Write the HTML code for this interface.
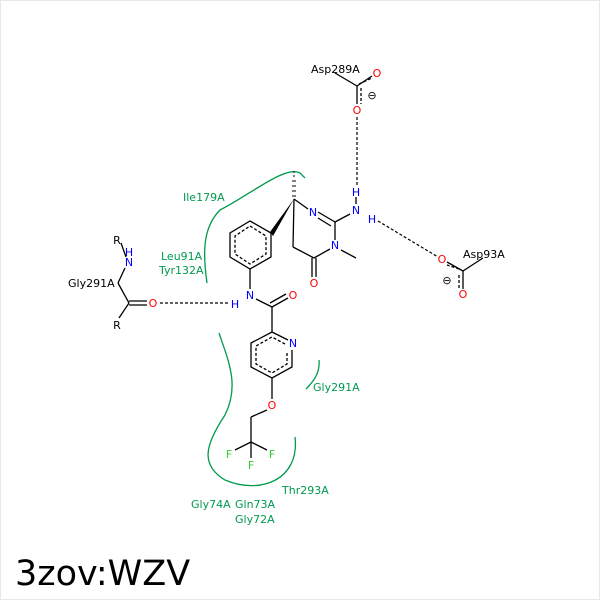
<!DOCTYPE html>
<html><head><style>body{margin:0;background:#fff}svg{display:block}text{font-family:"DejaVu Sans","Liberation Sans",sans-serif}</style></head><body>
<svg width="600" height="600" viewBox="0 0 600 600" xmlns="http://www.w3.org/2000/svg">
<rect x="0.5" y="0.5" width="599" height="599" fill="#fff" stroke="#e8e8e8"/>
<g fill="none" stroke="#009a4e" stroke-width="1.3">
<path d="M207,283 C203,255 202,228 220,210 C250,195 285,165 300,173 L305,178"/>
<path d="M219,333 C228,360 240,385 225,415 C205,445 200,465 225,480 C260,495 300,480 295,437"/>
<path d="M319,360 C320,372 315,380 306,389"/>
</g>
<g stroke="#000" stroke-width="1.3" fill="none">
<polygon points="250,221 271,233 271,257 250,269 230,257 230,233"/>
<polygon points="250,226 266,236 266,254 250,264 235,254 235,236" stroke-dasharray="3,2"/>
<line x1="294" y1="199" x2="308" y2="209"/>
<line x1="318" y1="212" x2="335" y2="222"/><line x1="318" y1="218" x2="331" y2="226"/>
<line x1="335" y1="222" x2="350" y2="214"/>
<line x1="335" y1="222" x2="335" y2="240"/>
<line x1="341" y1="250" x2="356" y2="258"/>
<line x1="330" y1="249" x2="314" y2="258"/>
<line x1="314" y1="258" x2="293" y2="247"/>
<line x1="293" y1="247" x2="294" y2="199"/>
<line x1="312" y1="258" x2="312" y2="277"/><line x1="316" y1="258" x2="316" y2="277"/>
<line x1="356" y1="197" x2="356" y2="204"/>
<line x1="250" y1="269" x2="250" y2="289"/>
<line x1="256" y1="299" x2="272" y2="307"/>
<line x1="272" y1="307" x2="288" y2="298"/><line x1="270" y1="303" x2="286" y2="294"/>
<line x1="272" y1="307" x2="272" y2="332"/>
<polyline points="288,340 272,332 251,343 251,367 272,378 292,367 292,350"/>
<polyline points="285,344 272,337 256,346 256,364 272,373 287,364 287,352" stroke-dasharray="3,2"/>
<line x1="272" y1="378" x2="272" y2="399"/>
<line x1="267" y1="410" x2="251" y2="417"/>
<line x1="251" y1="417" x2="251" y2="442"/>
<line x1="251" y1="442" x2="235" y2="450"/><line x1="251" y1="442" x2="267" y2="450"/><line x1="251" y1="442" x2="251" y2="458"/>
<line x1="121" y1="243" x2="126" y2="257"/>
<line x1="125" y1="268" x2="118" y2="283"/><line x1="118" y1="283" x2="129" y2="303"/>
<line x1="129" y1="301" x2="147" y2="301"/><line x1="129" y1="305" x2="147" y2="305"/>
<line x1="129" y1="303" x2="119" y2="318"/>
<line x1="335" y1="73" x2="357" y2="86"/><line x1="357" y1="86" x2="372" y2="76"/>
<line x1="357" y1="86" x2="357" y2="104"/>
<line x1="361" y1="88" x2="361" y2="104" stroke-dasharray="3,2"/><line x1="359" y1="84" x2="372" y2="78" stroke-dasharray="3,2"/>
<line x1="483" y1="258" x2="463" y2="271"/><line x1="463" y1="271" x2="447" y2="262"/>
<line x1="463" y1="271" x2="463" y2="289"/>
<line x1="459" y1="275" x2="459" y2="289" stroke-dasharray="3,2"/><line x1="459" y1="269" x2="447" y2="265" stroke-dasharray="3,2"/>
</g>
<polygon points="270,232 294,199 273,236" fill="#000"/>
<g stroke="#000" stroke-width="1"><line x1="292" y1="196" x2="296" y2="196"/><line x1="292" y1="191" x2="296" y2="191"/><line x1="292" y1="186" x2="296" y2="186"/><line x1="292" y1="181" x2="296" y2="181"/><line x1="293" y1="176" x2="295" y2="176"/><line x1="293" y1="172" x2="295" y2="172"/></g>
<g stroke="#000" stroke-width="1.2" stroke-dasharray="3,2" fill="none">
<line x1="160" y1="303" x2="228" y2="303"/>
<line x1="357" y1="117" x2="357" y2="186"/>
<line x1="378" y1="221" x2="438" y2="257"/>
</g>
<g font-size="11" text-anchor="middle">
<text x="313" y="216" fill="#0000ff">N</text>
<text x="335" y="249" fill="#0000ff">N</text>
<text x="356" y="214" fill="#0000ff">N</text>
<text x="356" y="196" fill="#0000ff">H</text>
<text x="372" y="223" fill="#0000ff">H</text>
<text x="314" y="287" fill="#ff0000">O</text>
<text x="250" y="299" fill="#0000ff">N</text>
<text x="235" y="308" fill="#0000ff">H</text>
<text x="293" y="299" fill="#ff0000">O</text>
<text x="293" y="347" fill="#0000ff">N</text>
<text x="272" y="409" fill="#ff0000">O</text>
<text x="229" y="458" fill="#33cc33">F</text>
<text x="272" y="458" fill="#33cc33">F</text>
<text x="251" y="469" fill="#33cc33">F</text>
<text x="117" y="244" fill="#000">R</text>
<text x="129" y="256" fill="#0000ff">H</text>
<text x="129" y="266" fill="#0000ff">N</text>
<text x="153" y="307" fill="#ff0000">O</text>
<text x="117" y="329" fill="#000">R</text>
<text x="377" y="77" fill="#ff0000">O</text>
<text x="357" y="114" fill="#ff0000">O</text>
<text x="372" y="99" fill="#000">⊖</text>
<text x="442" y="263" fill="#ff0000">O</text>
<text x="463" y="298" fill="#ff0000">O</text>
<text x="447" y="284" fill="#000">⊖</text>
</g>
<g font-size="11" fill="#000">
<text x="68" y="287">Gly291A</text>
<text x="311" y="73">Asp289A</text>
<text x="463" y="258">Asp93A</text>
</g>
<g font-size="11" fill="#009a4e">
<text x="183" y="201">Ile179A</text>
<text x="161" y="260">Leu91A</text>
<text x="159" y="274">Tyr132A</text>
<text x="313" y="391">Gly291A</text>
<text x="282" y="494">Thr293A</text>
<text x="191" y="508">Gly74A</text>
<text x="235" y="508">Gln73A</text>
<text x="235" y="523">Gly72A</text>
</g>
<text x="15" y="585" font-size="35" fill="#000">3zov:WZV</text>
</svg>
</body></html>
